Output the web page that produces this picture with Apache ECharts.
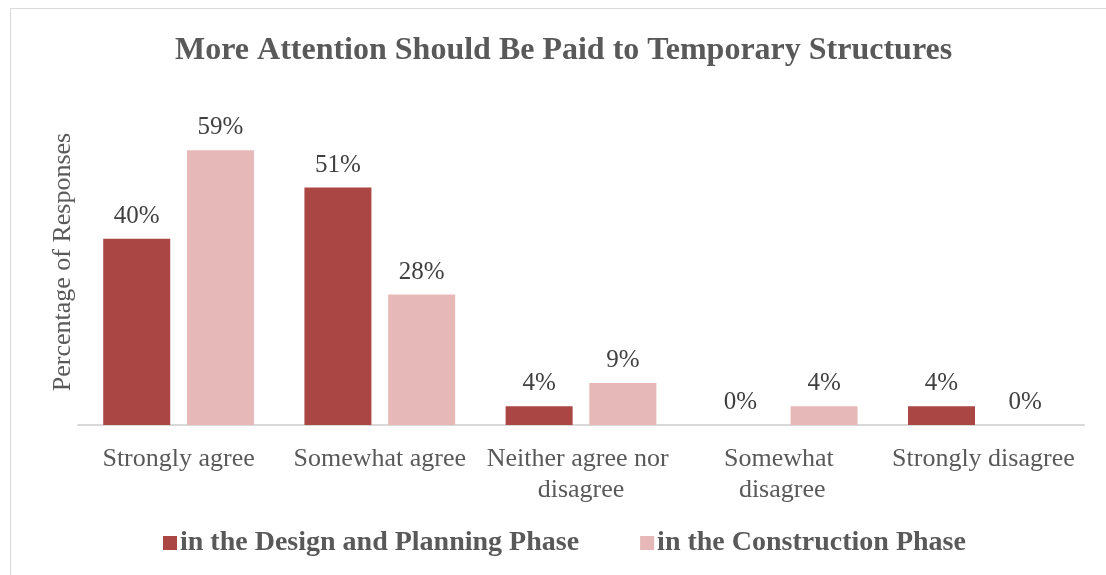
<!DOCTYPE html>
<html>
<head>
<meta charset="utf-8">
<script src="https://cdn.jsdelivr.net/npm/echarts@6/dist/echarts.min.js"></script>
<style>
  body { margin: 0; background: #fff; }
  #chart { position: absolute; left: 0; top: 0; width: 1106px; height: 575px; }
  #frame { position: absolute; left: 10px; top: 8px; width: 1110px; height: 600px;
           border: 1px solid #d9d9d9; pointer-events: none; }
</style>
</head>
<body>
<div id="chart"></div>
<div id="frame"></div>
<script>
const categories = ['Strongly agree', 'Somewhat agree', 'Neither agree nor disagree', 'Somewhat disagree', 'Strongly disagree'];
const designPhase = [40, 51, 4, 0, 4];
const constructionPhase = [59, 28, 9, 4, 0];
const seriesNames = ['in the Design and Planning Phase', 'in the Construction Phase'];

const font = '"Liberation Serif", "Times New Roman", serif';
const grey = '#595959';

const chart = echarts.init(document.getElementById('chart'));

const label = {
    show: true,
    position: 'top',
    distance: 10,
    formatter: p => p.value + '%',
    fontFamily: font,
    fontSize: 25,
    color: '#404040'
};

chart.setOption({
    animation: false,
    title: {
        text: 'More Attention Should Be Paid to Temporary Structures',
        left: 170,
        top: 30,
        textStyle: { fontFamily: font, fontSize: 32, fontWeight: 'bold', color: grey }
    },
    legend: {
        bottom: 13,
        left: 158,
        itemWidth: 14,
        itemHeight: 14,
        itemGap: 61,
        icon: 'rect',
        textStyle: { fontFamily: font, fontSize: 28, fontWeight: 'bold', color: grey, padding: [0, 0, 0, -2] }
    },
    grid: { left: 78, right: 22, top: 99, bottom: 150 },
    xAxis: {
        type: 'category',
        data: categories,
        axisLine: { lineStyle: { color: '#d9d9d9', width: 2 } },
        axisTick: { show: false },
        axisLabel: {
            interval: 0,
            margin: 19,
            fontFamily: font,
            fontSize: 26,
            lineHeight: 31,
            color: grey,
            width: 195,
            overflow: 'break'
        }
    },
    yAxis: {
        type: 'value',
        min: 0,
        max: 70,
        name: 'Percentage of Responses',
        nameLocation: 'middle',
        nameGap: 2,
        nameTextStyle: { fontFamily: font, fontSize: 26, color: grey },
        axisLine: { show: false },
        axisTick: { show: false },
        axisLabel: { show: false },
        splitLine: { show: false }
    },
    series: [
        {
            name: seriesNames[0],
            type: 'bar',
            data: designPhase,
            barWidth: 67,
            barGap: '25%',
            itemStyle: { color: '#AA4643' },
            label: label
        },
        {
            name: seriesNames[1],
            type: 'bar',
            data: constructionPhase,
            barWidth: 67,
            itemStyle: { color: '#E6B9B8' },
            label: label
        }
    ]
});
</script>
</body>
</html>
